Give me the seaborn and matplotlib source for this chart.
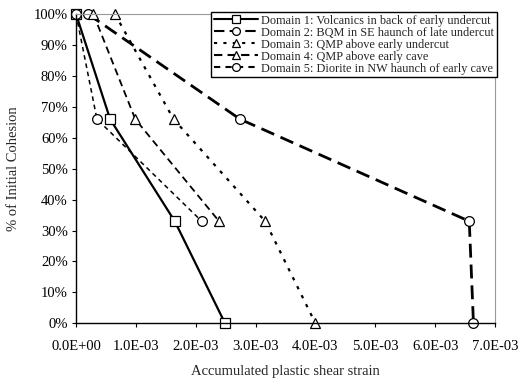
import matplotlib
matplotlib.use("Agg")
import matplotlib.pyplot as plt
import seaborn as sns
import pandas as pd
from matplotlib.ticker import FuncFormatter, MultipleLocator

# ---- data ----
d1_x = [0.0, 0.57e-3, 1.65e-3, 2.49e-3]
d1_y = [100, 66, 33, 0]
d2_x = [0.2e-3, 2.74e-3, 6.57e-3, 6.64e-3]
d2_y = [100, 66, 33, 0]
d3_x = [0.65e-3, 1.63e-3, 3.16e-3, 4.0e-3]
d3_y = [100, 66, 33, 0]
d4_x = [0.29e-3, 0.99e-3, 2.39e-3]
d4_y = [100, 66, 33]
d5_x = [0.0, 0.35e-3, 2.10e-3]
d5_y = [100, 66, 33]

names = [
    "Domain 1: Volcanics in back of early undercut",
    "Domain 2: BQM in SE haunch of late undercut",
    "Domain 3: QMP above early undercut",
    "Domain 4: QMP above early cave",
    "Domain 5: Diorite in NW haunch of early cave",
]
xs = [d1_x, d2_x, d3_x, d4_x, d5_x]
ys = [d1_y, d2_y, d3_y, d4_y, d5_y]

rows = []
for n, xx, yy in zip(names, xs, ys):
    for a, b in zip(xx, yy):
        rows.append({"Domain": n, "strain": a, "cohesion": b})
df = pd.DataFrame(rows)

sns.set_theme(style="white")
plt.rcParams["font.family"] = ["Liberation Serif", "DejaVu Serif"]

fig = plt.figure(figsize=(5.19, 3.82), dpi=100)
ax = fig.add_axes([76/519, 1-323.3/382, (495-76)/519, (323.3-14)/382])

markers = {names[0]: "s", names[1]: "o", names[2]: "^", names[3]: "^", names[4]: "o"}
dashes = {names[0]: "", names[1]: (5, 2.5), names[2]: (1.5, 3), names[3]: (4, 2.5), names[4]: (3, 2.5)}
widths = [1.6, 2.0, 1.6, 1.3, 1.1]

sns.lineplot(data=df, x="strain", y="cohesion", hue="Domain", style="Domain",
             palette=["black"] * 5, markers=markers, dashes=dashes,
             sort=False, estimator=None, ax=ax, markersize=7,
             markerfacecolor="white", markeredgecolor="black", markeredgewidth=0.9)

for line, w in zip(ax.get_lines(), widths):
    line.set_linewidth(w)
    line.set_clip_on(False)

ax.set_xlim(0, 7e-3)
ax.set_ylim(0, 100)
ax.xaxis.set_major_locator(MultipleLocator(1e-3))
ax.yaxis.set_major_locator(MultipleLocator(10))
ax.xaxis.set_major_formatter(FuncFormatter(lambda v, p: f"{v:.1E}"))
ax.yaxis.set_major_formatter(FuncFormatter(lambda v, p: f"{v:.0f}%"))
ax.tick_params(axis="both", direction="out", length=3, width=0.8, colors="black",
               labelsize=10.5, bottom=True, left=True, pad=3)
ax.tick_params(axis="x", pad=9)

for s in ["left", "bottom"]:
    ax.spines[s].set_color("black")
    ax.spines[s].set_linewidth(1.0)
for s in ["top", "right"]:
    ax.spines[s].set_color("#999999")
    ax.spines[s].set_linestyle((0, (1, 1)))
    ax.spines[s].set_linewidth(0.8)

ax.set_xlabel("Accumulated plastic shear strain", fontsize=10.5, labelpad=9)
ax.set_ylabel("% of Initial Cohesion", fontsize=10.5, labelpad=10)

handles, labels = ax.get_legend_handles_labels()
leg = ax.legend(handles, labels, loc="upper right", bbox_to_anchor=(1.004, 1.006),
                borderaxespad=0, fontsize=8.8, frameon=True, fancybox=False,
                handlelength=3.6, handletextpad=0.3, labelspacing=0.0,
                borderpad=0.2, edgecolor="black", framealpha=1, markerscale=0.8)
leg.get_frame().set_linewidth(1.0)

fig.savefig("out.png", dpi=100)
